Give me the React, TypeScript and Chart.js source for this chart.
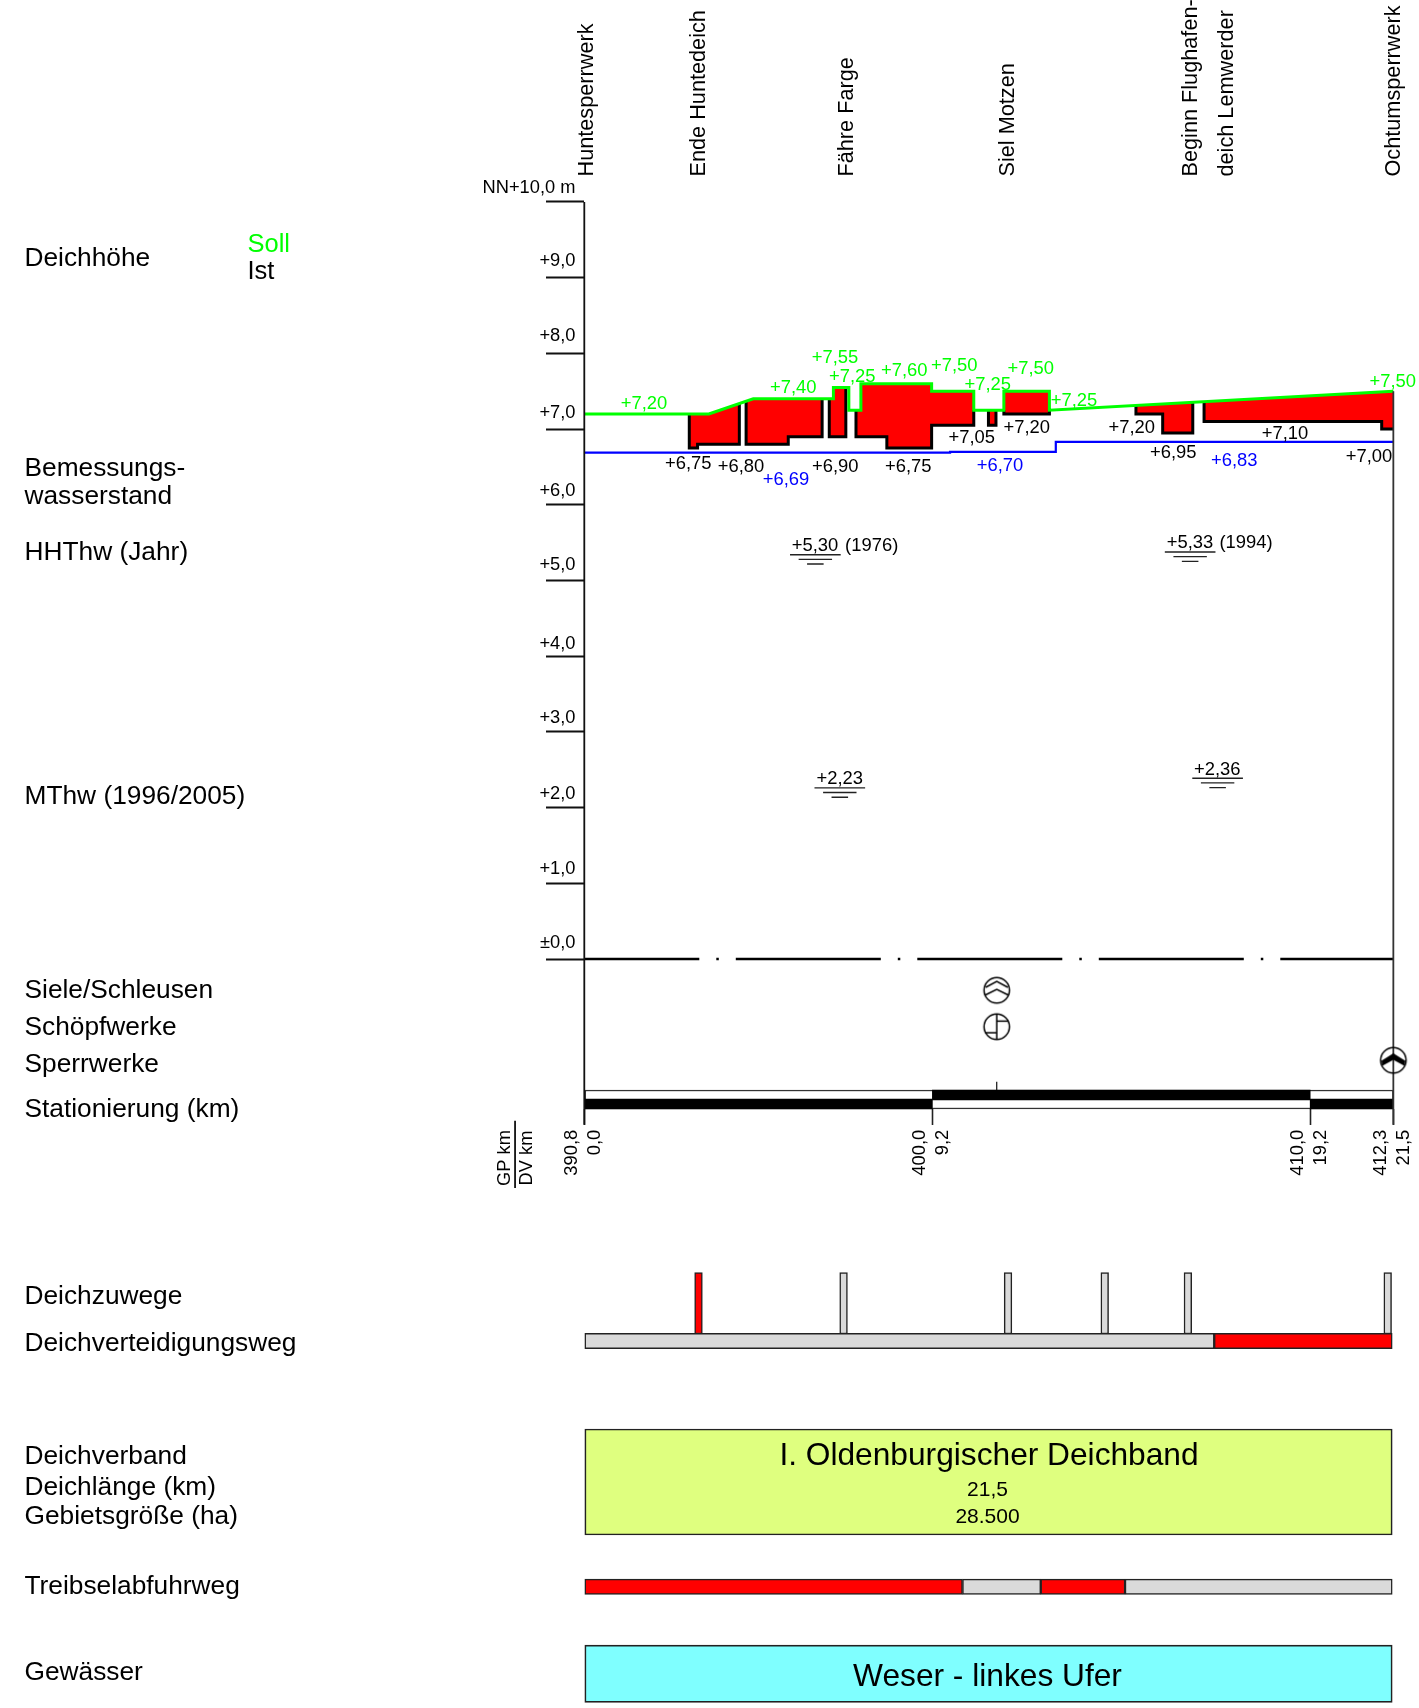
import React, { useEffect, useRef } from "react";
import { Chart, registerables } from "chart.js";

Chart.register(...registerables);

// ---------- data ----------
const heightTicks = [0, 1, 2, 3, 4, 5, 6, 7, 8, 9, 10];
const heightTickLabels = ["±0,0", "+1,0", "+2,0", "+3,0", "+4,0", "+5,0", "+6,0", "+7,0", "+8,0", "+9,0", "NN+10,0 m"];
const heightTickLift = [18, 15.8, 15, 15.7, 14, 17.4, 15, 17.4, 18.5, 18, 16];

const stationKm = [0, 9.25, 19.29, 21.5];
const gpKmLabels = ["390,8", "400,0", "410,0", "412,3"];
const dvKmLabels = ["0,0", "9,2", "19,2", "21,5"];

const soll: [number, number][] = [
  [0, 7.2], [3.31, 7.2], [4.49, 7.4], [6.62, 7.4], [6.62, 7.55], [7.03, 7.55], [7.03, 7.25], [7.35, 7.25],
  [7.35, 7.6], [9.23, 7.6], [9.23, 7.5], [10.35, 7.5], [10.35, 7.25], [11.15, 7.25], [11.15, 7.5], [12.36, 7.5],
  [12.36, 7.25], [21.5, 7.5],
];
const bemessung: [number, number][] = [[0, 6.69], [9.72, 6.69], [9.72, 6.7], [12.53, 6.7], [12.53, 6.83], [21.5, 6.83]];

const ist1: [number, number][] = [[2.79, 7.2], [2.79, 6.75], [3.01, 6.75], [3.01, 6.8], [4.12, 6.8], [4.12, 7.33]];
const ist2: [number, number][] = [[4.3, 7.36], [4.3, 6.8], [5.42, 6.8], [5.42, 6.9], [6.32, 6.9], [6.32, 7.4]];
const ist3: [number, number][] = [[6.51, 7.4], [6.51, 6.9], [6.95, 6.9], [6.95, 7.55]];
const ist4: [number, number][] = [[7.22, 7.25], [7.22, 6.9], [8.04, 6.9], [8.04, 6.75], [9.23, 6.75], [9.23, 7.05], [10.35, 7.05], [10.35, 7.25]];
const ist5: [number, number][] = [[10.74, 7.25], [10.74, 7.05], [10.94, 7.05], [10.94, 7.25]];
const ist6: [number, number][] = [[11.15, 7.25], [11.15, 7.2], [12.36, 7.2], [12.36, 7.25]];
const ist7: [number, number][] = [[14.66, 7.31], [14.66, 7.2], [15.37, 7.2], [15.37, 6.95], [16.17, 6.95], [16.17, 7.35]];
const ist8: [number, number][] = [[16.47, 7.36], [16.47, 7.1], [21.19, 7.1], [21.19, 7.0], [21.5, 7.0]];
const istSegments = [ist1, ist2, ist3, ist4, ist5, ist6, ist7, ist8];

// plotted water marks: km, level
const waterMarks: [number, number][] = [[6.14, 5.34], [16.1, 5.376], [6.79, 2.26], [16.83, 2.387]];

const accessKm = [3.035, 6.89, 11.26, 13.83, 16.04, 21.35];
const accessRed = [true, false, false, false, false, false];

const roadSpans: [number, number][] = [[0, 16.74], [16.74, 21.47]];
const roadRed = [false, true];
const treibselSpans: [number, number][] = [[0, 10.05], [10.05, 12.13], [12.13, 14.37], [14.37, 21.47]];
const treibselRed = [true, false, true, false];
const lowerStationSpans: [number, number][] = [[0, 9.25], [19.29, 21.5]];
const upperStationSpans: [number, number][] = [[9.25, 19.29]];
const fullSpan: [number, number] = [0, 21.47];
const stationSpan: [number, number] = [0, 21.5];
const structureKm = 10.96;

const placeNames = ["Huntesperrwerk", "Ende Huntedeich", "Fähre Farge", "Siel Motzen", "Beginn Flughafen-", "deich Lemwerder", "Ochtumsperrwerk"];
const placeKm = [0.02, 3.0, 6.93, 11.2, 16.07, 17.03, 21.46];

const sollTexts = ["+7,20", "+7,55", "+7,25", "+7,40", "+7,60", "+7,50", "+7,25", "+7,50", "+7,25", "+7,50"];
const sollTextPos = [[644, 402.7], [835, 356], [852.3, 375], [793.3, 386], [904.3, 369], [954.3, 364.3], [987.7, 383.3], [1030.7, 367.3], [1074, 399.3], [1392.7, 380.7]];
const istTexts = ["+6,75", "+6,80", "+6,90", "+6,75", "+7,05", "+7,20", "+7,20", "+6,95", "+7,10", "+7,00"];
const istTextPos = [[688.3, 462.7], [741, 465], [835.3, 465], [908.3, 465], [971.7, 436], [1026.7, 426], [1131.7, 426], [1173.3, 451.7], [1285, 432.7], [1369, 455]];
const bemTexts = ["+6,69", "+6,70", "+6,83"];
const bemTextPos = [[786, 478.7], [1000, 464.3], [1234.3, 459.3]];
const markTexts = ["+5,30", "(1976)", "+5,33", "(1994)", "+2,23", "+2,36"];
const markTextPos = [[815, 544], [871.7, 544], [1190, 541.7], [1246, 541.7], [839.7, 777.7], [1217.3, 768.3]];

const sideLabels = ["Deichhöhe", "Bemessungs-", "wasserstand", "HHThw (Jahr)", "MThw (1996/2005)", "Siele/Schleusen", "Schöpfwerke", "Sperrwerke", "Stationierung (km)", "Deichzuwege", "Deichverteidigungsweg", "Deichverband", "Deichlänge (km)", "Gebietsgröße (ha)", "Treibselabfuhrweg", "Gewässer"];
const sideLabelY = [256.7, 466.7, 495, 551, 795, 989, 1026, 1063, 1107.5, 1295, 1342, 1455, 1485.5, 1515, 1584.5, 1670.5];

// ---------- layout ----------
const W = 1419;
const H = 1708;
const AXIS_X = 584.3;
const PX_PER_KM = 37.63;
const ZERO_Y = 959;
const PX_PER_M = 75.7;
const FONT = '"Liberation Sans", Arial, sans-serif';
const RED = "#ff0000";
const GREY = "#dadada";
const EDGE = "#222222";
const kmMin = -AXIS_X / PX_PER_KM;
const kmMax = (W - AXIS_X) / PX_PER_KM;

function pts(a: [number, number][]) {
  return a.map(([x, y]) => ({ x, y }));
}
function polygon(ist: [number, number][]) {
  const a = ist[0][0];
  const b = ist[ist.length - 1][0];
  const top = soll.filter(([x]) => x >= a && x <= b).reverse();
  return pts([...ist, ...top, ist[0]]);
}
function markLines() {
  const out: any[] = [];
  for (const [km, lvl] of waterMarks) {
    [[0.673, 0], [0.444, 0.061], [0.22, 0.123]].forEach(([hw, d]) => {
      out.push({ x: km - hw, y: lvl - d }, { x: km + hw, y: lvl - d }, { x: null, y: null });
    });
  }
  return out;
}
function makeSymbol(draw: (c: CanvasRenderingContext2D) => void) {
  const cv = document.createElement("canvas");
  cv.width = 30;
  cv.height = 30;
  const c = cv.getContext("2d")!;
  c.translate(15, 15);
  c.lineWidth = 1.5;
  c.strokeStyle = "#000";
  c.fillStyle = "#000";
  c.beginPath();
  c.arc(0, 0, 12.7, 0, Math.PI * 2);
  c.stroke();
  draw(c);
  return cv;
}
function poly(c: CanvasRenderingContext2D, p: number[][], fill = false) {
  c.beginPath();
  p.forEach(([x, y], i) => (i ? c.lineTo(x, y) : c.moveTo(x, y)));
  if (fill) {
    c.closePath();
    c.fill();
  } else c.stroke();
}

function lineDs(data: any[], color: string, width: number, order: number, extra: any = {}) {
  return { type: "scatter", data, showLine: true, borderColor: color, borderWidth: width, pointRadius: 0, order, spanGaps: false, ...extra };
}
function hBar(spans: [number, number][], rowY: number, thick: number, colors: string | string[], edge: number, order: number, edgeColor = EDGE) {
  return {
    type: "bar", indexAxis: "y", yAxisID: "rows", xAxisID: "x", grouped: false, barPercentage: 1,
    data: spans.map((s) => ({ x: s, y: rowY })),
    backgroundColor: colors, borderColor: edgeColor, borderWidth: edge, borderSkipped: false, barThickness: thick, order,
  };
}
const noPadding = (s: any) => {
  s.paddingLeft = s.paddingRight = s.paddingTop = s.paddingBottom = 0;
};

const textPlugin = {
  id: "texts",
  afterDatasetsDraw(chart: any) {
    const c: CanvasRenderingContext2D = chart.ctx;
    const xs = chart.scales.x;
    const ys = chart.scales.y;
    c.save();
    c.textBaseline = "middle";
    const put = (t: string, x: number, y: number, size: number, color = "#000", align: CanvasTextAlign = "center", rot = 0) => {
      c.save();
      c.translate(x, y);
      if (rot) c.rotate(rot);
      c.translate(0, size * 0.085);
      c.font = `${size}px ${FONT}`;
      c.fillStyle = color;
      c.textAlign = align;
      c.fillText(t, 0, 0);
      c.restore();
    };
    heightTicks.forEach((v, i) => put(heightTickLabels[i], xs.getPixelForValue(0) - 8.8, ys.getPixelForValue(v) - heightTickLift[i], 18.3, "#000", "right"));
    sollTexts.forEach((t, i) => put(t, sollTextPos[i][0], sollTextPos[i][1], 18.4, "#00ff00"));
    istTexts.forEach((t, i) => put(t, istTextPos[i][0], istTextPos[i][1], 18.4));
    bemTexts.forEach((t, i) => put(t, bemTextPos[i][0], bemTextPos[i][1], 18.4, "#0000ff"));
    markTexts.forEach((t, i) => put(t, markTextPos[i][0], markTextPos[i][1], 18.4));
    sideLabels.forEach((t, i) => put(t, 24.5, sideLabelY[i], 26.3, "#000", "left"));
    put("Soll", 247.5, 243, 25.5, "#00ff00", "left");
    put("Ist", 247.5, 270, 25.5, "#000", "left");
    placeNames.forEach((t, i) => put(t, xs.getPixelForValue(placeKm[i]), 176.5, 21.7, "#000", "left", -Math.PI / 2));
    put("GP km", 503.3, 1158, 18.3, "#000", "center", -Math.PI / 2);
    put("DV km", 525, 1158, 18.3, "#000", "center", -Math.PI / 2);
    put("I. Oldenburgischer Deichband", 989, 1454, 31.7);
    put("21,5", 987.5, 1488, 21);
    put("28.500", 987.5, 1515.5, 21);
    put("Weser - linkes Ufer", 987.5, 1675, 31.7);
    c.restore();
  },
};

export default function App() {
  const ref = useRef<HTMLCanvasElement>(null);
  useEffect(() => {
    document.body.style.margin = "0";
    const sielSym = makeSymbol((c) => {
      poly(c, [[-11, -3], [0, -9], [11, -3]]);
      poly(c, [[-12, 5], [0, -1], [12, 5]]);
    });
    const pumpSym = makeSymbol((c) => {
      poly(c, [[0, -12.7], [0, 12.7]]);
      poly(c, [[0, -5.6], [11.5, -5.6]]);
      poly(c, [[-11.5, 6], [0, 6]]);
    });
    const gateSym = makeSymbol((c) => {
      poly(c, [[0, -7], [12, 0.5], [11, 5.5], [0, -0.5], [-11, 5.5], [-12, 0.5]], true);
    });

    const chart = new Chart(ref.current!, {
      type: "scatter",
      plugins: [textPlugin],
      data: {
        datasets: [
          // symbols
          { type: "scatter", yAxisID: "rows", data: [{ x: structureKm, y: 990.3 }], pointStyle: sielSym, order: 1 },
          { type: "scatter", yAxisID: "rows", data: [{ x: structureKm, y: 1026.7 }], pointStyle: pumpSym, order: 1 },
          { type: "scatter", yAxisID: "rows", data: [{ x: 21.5, y: 1060.3 }], pointStyle: gateSym, order: 1 },
          // axes
          lineDs([{ x: 0, y: 10 }, { x: 0, y: -2.19 }], "#111", 1.8, 3),
          lineDs([{ x: 21.5, y: 7.5 }, { x: 21.5, y: -2.19 }], "#333", 1.8, 3),
          lineDs([{ x: 0, y: 0 }, { x: 21.5, y: 0 }], "#000", 2.6, 3, { borderDash: [145, 17, 2.5, 17], borderDashOffset: 30 }),
          lineDs([{ x: structureKm, y: 1081.7 }, { x: structureKm, y: 1090 }], "#111", 1.2, 3, { yAxisID: "rows" }),
          lineDs([{ x: -1.84, y: 1120.7 }, { x: -1.84, y: 1188 }], "#111", 1.8, 3, { yAxisID: "rows" }),
          // water levels
          lineDs(markLines(), "#222", 1.4, 4),
          lineDs(pts(bemessung), "#0000ff", 2.2, 5),
          lineDs(pts(soll), "#00ff00", 3, 6),
          ...istSegments.map((s) => lineDs(pts(s), "#000", 3, 7)),
          ...istSegments.map((s) => lineDs(polygon(s), "rgba(0,0,0,0)", 0, 8, { fill: "shape", backgroundColor: RED })),
          // strips
          hBar(lowerStationSpans, 1104, 10, "#000", 0, 9),
          hBar(upperStationSpans, 1095, 10, "#000", 0, 9),
          hBar([stationSpan], 1099.5, 19, "#fff", 1.5, 10, "#333"),
          hBar(roadSpans, 1341, 15.4, roadRed.map((r) => (r ? RED : GREY)), 1.5, 9),
          hBar(treibselSpans, 1586.7, 15.3, treibselRed.map((r) => (r ? RED : GREY)), 1.5, 9),
          hBar([fullSpan], 1482, 106, "#dfff7f", 1.7, 9),
          hBar([fullSpan], 1673.7, 57.3, "#7fffff", 1.7, 9),
          {
            type: "bar", xAxisID: "xV", yAxisID: "rowsV", grouped: false, barPercentage: 1,
            data: accessKm.map((k) => ({ x: k, y: [1272.7, 1334] })),
            backgroundColor: accessRed.map((r) => (r ? RED : GREY)),
            borderColor: EDGE, borderWidth: 1.5, borderSkipped: false, barThickness: 7.7, order: 11,
          },
        ] as any,
      },
      options: {
        animation: false,
        responsive: false,
        layout: { padding: 0, autoPadding: false },
        events: [],
        plugins: { legend: { display: false }, tooltip: { enabled: false }, title: { display: false } },
        scales: {
          x: {
            type: "linear", axis: "x", min: kmMin, max: kmMax, stacked: false, offset: false,
            position: { rows: 1108.7 },
            border: { display: false },
            grid: { drawOnChartArea: false, tickLength: 16, tickWidth: 1.6, tickColor: "#222", offset: false },
            afterBuildTicks: (s: any) => { s.ticks = stationKm.map((value) => ({ value })); },
            afterFit: noPadding,
            ticks: {
              autoSkip: false, minRotation: 90, maxRotation: 90, padding: 5, color: "#000", labelOffset: -12.5,
              font: { family: FONT, size: 18.4, lineHeight: 1.26 },
              callback: (_v: any, i: number) => [gpKmLabels[i], dvKmLabels[i]],
            },
          },
          y: {
            type: "linear", axis: "y", min: (ZERO_Y - H) / PX_PER_M, max: ZERO_Y / PX_PER_M,
            position: { x: 0 },
            border: { display: false },
            grid: { drawOnChartArea: false, tickLength: 38, tickWidth: 1.8, tickColor: "#111" },
            afterBuildTicks: (s: any) => { s.ticks = heightTicks.map((value) => ({ value })); },
            afterFit: noPadding,
            ticks: { autoSkip: false, display: false },
          },
          rows: { type: "linear", axis: "y", min: 0, max: H, reverse: true, display: false, offset: false },
          rowsV: { type: "linear", axis: "y", min: 0, max: H, reverse: true, display: false, stacked: false, beginAtZero: false },
          xV: { type: "linear", axis: "x", min: kmMin, max: kmMax, display: false, offset: false },
        },
      } as any,
    });
    return () => chart.destroy();
  }, []);
  return <canvas ref={ref} width={W} height={H} style={{ display: "block" }} />;
}
